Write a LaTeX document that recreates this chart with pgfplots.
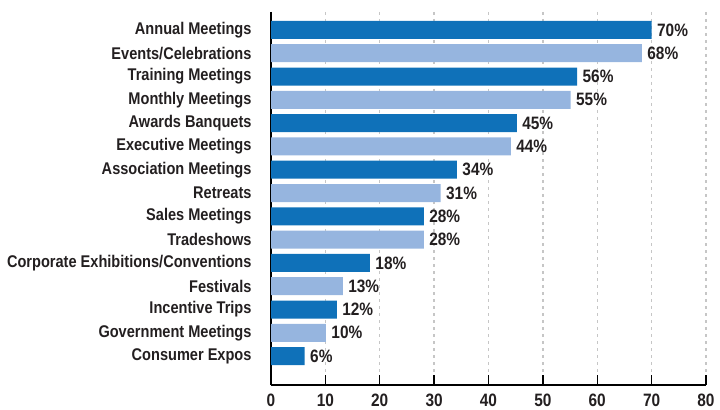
\documentclass[border=0pt]{standalone}
\usepackage{pgfplots}
\pgfplotsset{compat=1.18}
\usepackage{fontspec}
\setmainfont{Liberation Sans}[FakeStretch=0.86]
\definecolor{darkb}{HTML}{0F71B9}
\definecolor{lightb}{HTML}{96B5DF}
\definecolor{txt}{HTML}{231F20}
\begin{document}
\begin{tikzpicture}
\begin{axis}[
  name=ax,
  scale only axis,
  width=435bp, height=373bp,
  xmin=0, xmax=80,
  ymin=-0.77, ymax=15.24,
  y dir=reverse,
  xbar, bar width=18bp, bar shift=0pt,
  axis x line*=bottom, axis y line*=left,
  axis line style={black, line width=1.4bp},
  xtick={0,10,...,80},
  xtick align=inside,
  major tick length=10bp,
  tick style={black, line width=1.4bp},
  ytick={0,...,14},
  yticklabels={Annual Meetings,Events/Celebrations,Training Meetings,Monthly Meetings,Awards Banquets,Executive Meetings,Association Meetings,Retreats,Sales Meetings,Tradeshows,Corporate Exhibitions/Conventions,Festivals,Incentive Trips,Government Meetings,Consumer Expos},
  ytick style={draw=none},
  yticklabel style={font=\fontsize{17}{19}\selectfont\bfseries, text=txt, anchor=east, xshift=-6bp},
  xticklabel style={font=\fontsize{18}{20}\selectfont\bfseries, text=txt, yshift=-5bp},
  /pgf/number format/assume math mode=true,
  xmajorgrids,
  ymajorgrids=false,
  major x grid style={gray!45, line width=1.4bp, dash pattern=on 3bp off 4bp},
  nodes near coords={\pgfmathprintnumber[fixed,precision=0]{\pgfplotspointmeta}\%},
  nodes near coords style={font=\fontsize{18}{20}\selectfont\bfseries, text=txt, anchor=west, xshift=2bp},
  every axis plot/.append style={draw=none},
  clip=false,
]
\addplot[fill=darkb] coordinates {(70,0) (56.3,2) (45.2,4) (34.2,6) (28.1,8) (18.2,10) (12.1,12) (6.2,14)};
\addplot[fill=lightb] coordinates {(68.2,1) (55.1,3) (44.1,5) (31.2,7) (28.1,9) (13.2,11) (10.1,13)};
\end{axis}
\path ([xshift=-271bp,yshift=-21bp]ax.south west) rectangle ([xshift=14bp,yshift=12bp]ax.north east);
\end{tikzpicture}
\end{document}
